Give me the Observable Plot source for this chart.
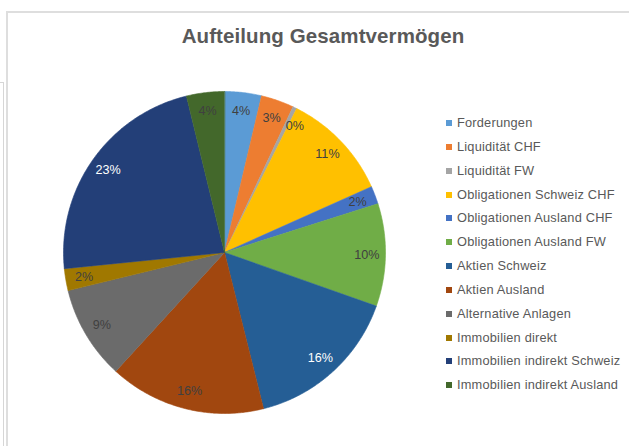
<!DOCTYPE html>
<html>
<head>
<meta charset="utf-8">
<script src="https://cdn.jsdelivr.net/npm/d3@7"></script>
<script src="https://cdn.jsdelivr.net/npm/@observablehq/plot@0.6"></script>
<style>
  html, body { margin: 0; padding: 0; background: #fff; }
  #wrap { position: relative; width: 629px; height: 446px; overflow: hidden; font-family: "Liberation Sans", Arial, sans-serif; }
  #frame { position: absolute; left: 6px; top: 11px; width: 700px; height: 500px; border-left: 2px solid #dedede; border-top: 2px solid #dedede; }
  #back { position: absolute; left: 0; top: 82px; width: 3px; height: 400px; border-right: 1px solid #d6d6d6; border-top: 1px solid #d6d6d6; }
  #title { position: absolute; left: 0; width: 646px; top: 24px; line-height: 24px; text-align: center; font-size: 20.5px; font-weight: bold; color: #595959; letter-spacing: 0.1px; }
  #chart { position: absolute; left: 0; top: 0; }
  #legend { position: absolute; left: 446px; top: 111px; font-size: 12.8px; letter-spacing: 0.2px; color: #595959; }
  #legend .row { height: 23.85px; line-height: 23.85px; white-space: nowrap; }
  #legend .sw { display: inline-block; width: 6px; height: 6px; margin-right: 5px; vertical-align: 1px; }
</style>
</head>
<body>
<div id="wrap">
  <div id="back"></div>
  <div id="frame"></div>
  <div id="title">Aufteilung Gesamtvermögen</div>
  <div id="chart"></div>
  <div id="legend"></div>
</div>
<script>
const categories = [
  "Forderungen",
  "Liquidität CHF",
  "Liquidität FW",
  "Obligationen Schweiz CHF",
  "Obligationen Ausland CHF",
  "Obligationen Ausland FW",
  "Aktien Schweiz",
  "Aktien Ausland",
  "Alternative Anlagen",
  "Immobilien direkt",
  "Immobilien indirekt Schweiz",
  "Immobilien indirekt Ausland"
];
const values = [3.7, 3.3, 0.4, 10.9, 1.8, 10.3, 15.7, 15.7, 9.4, 2.2, 22.8, 3.8];
const colors = [
  "#5B9BD5", "#ED7D31", "#A5A5A5", "#FFC000", "#4472C4", "#70AD47",
  "#255E95", "#A1470F", "#6B6B6B", "#A07800", "#233F78", "#43682B"
];
const whiteLabels = ["Aktien Schweiz", "Immobilien indirekt Schweiz"];

const total = d3.sum(values);
const pie = d3.pie().sort(null).value(d => d.value)(categories.map((name, i) => ({name, value: values[i]})));

// slice polygons in unit-circle coordinates (angle from north, clockwise)
const pts = [];
for (const s of pie) {
  const name = s.data.name;
  pts.push({name, x: 0, y: 0});
  const n = Math.max(2, Math.ceil((s.endAngle - s.startAngle) / (Math.PI / 360)));
  for (let k = 0; k <= n; k++) {
    const a = s.startAngle + (s.endAngle - s.startAngle) * k / n;
    pts.push({name, x: Math.sin(a), y: Math.cos(a)});
  }
}
const fmt = v => Math.round(v / total * 100) + "%";
const labels = pie.map(s => {
  const a = (s.startAngle + s.endAngle) / 2;
  return {name: s.data.name, value: s.data.value, x: 0.885 * Math.sin(a), y: 0.885 * Math.cos(a), text: fmt(s.data.value)};
});
const isTiny = d => d.value / total < 0.01;

const chart = Plot.plot({
  width: 400,
  height: 446,
  marginLeft: 63,
  marginRight: 15,
  marginTop: 91,
  marginBottom: 33,
  x: {domain: [-1, 1], axis: null},
  y: {domain: [-1, 1], axis: null},
  color: {domain: categories, range: colors},
  style: {background: "transparent", fontFamily: "Liberation Sans, Arial, sans-serif"},
  marks: [
    Plot.line(pts, {x: "x", y: "y", z: "name", fill: "name", stroke: "name", strokeWidth: 0.6, curve: "linear-closed"}),
    Plot.text(labels.filter(d => !whiteLabels.includes(d.name) && !isTiny(d)), {x: "x", y: "y", text: "text", fill: "#404040", fontSize: 12.6}),
    Plot.text(labels.filter(isTiny), {x: "x", y: "y", text: "text", fill: "#404040", fontSize: 12.6, dx: 8, dy: 2}),
    Plot.text(labels.filter(d => whiteLabels.includes(d.name)), {x: "x", y: "y", text: "text", fill: "white", fontSize: 12.6})
  ]
});
document.getElementById("chart").appendChild(chart);

const legend = d3.select("#legend");
categories.forEach((c, i) => {
  const row = legend.append("div").attr("class", "row");
  row.append("span").attr("class", "sw").style("background", colors[i]);
  row.append("span").text(c);
});
</script>
</body>
</html>
